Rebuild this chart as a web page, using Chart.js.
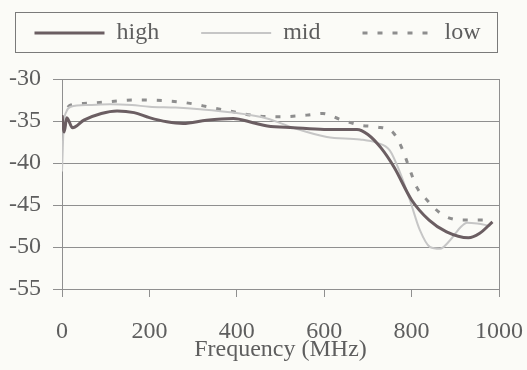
<!DOCTYPE html>
<html>
<head>
<meta charset="utf-8">
<title>Frequency response</title>
<script src="https://cdn.jsdelivr.net/npm/chart.js@4.4.1/dist/chart.umd.min.js"></script>
<style>
  html, body { margin: 0; padding: 0; background: #fbfbf7; }
  #wrap { width: 527px; height: 370px; }
</style>
</head>
<body>
<div id="wrap"><canvas id="resp" width="527" height="370"></canvas></div>
<script>
// series names (legend order)
const seriesNames = ['high', 'mid', 'low'];

// frequency (MHz) / level pairs for each series
const highFreq = [0, 5, 11, 24, 50, 90, 126, 165, 200, 240, 277, 331, 392, 437, 470, 530, 600, 675, 700, 730, 760, 800, 840, 880, 930, 955, 985];
const highLevel = [-34.3, -36.3, -34.6, -35.8, -34.9, -34.1, -33.8, -34.0, -34.6, -35.1, -35.3, -34.9, -34.7, -35.2, -35.6, -35.8, -36.0, -36.0, -36.6, -38.2, -40.5, -44.4, -46.8, -48.2, -48.9, -48.4, -47.0];

const midFreq = [0, 4, 10, 20, 60, 110, 160, 200, 260, 316, 392, 469, 529, 606, 682, 720, 750, 774, 796, 819, 842, 865, 888, 911, 927, 950, 980];
const midLevel = [-41.0, -35.5, -33.9, -33.3, -33.1, -33.0, -33.1, -33.3, -33.4, -33.6, -34.0, -34.7, -35.8, -36.9, -37.2, -37.6, -38.5, -41.2, -44.4, -48.0, -50.0, -50.2, -49.2, -47.7, -47.1, -47.2, -47.5];

const lowFreq = [0, 8, 20, 57, 110, 163, 240, 293, 323, 392, 446, 500, 560, 597, 636, 682, 720, 758, 780, 796, 812, 835, 872, 918, 963, 985];
const lowLevel = [-35.0, -33.8, -33.1, -32.9, -32.7, -32.5, -32.6, -32.9, -33.2, -33.9, -34.4, -34.5, -34.3, -34.1, -34.8, -35.5, -35.7, -36.4, -38.5, -40.8, -42.9, -44.4, -46.2, -46.8, -46.8, -47.0];

// axis ticks
const xTicks = [0, 200, 400, 600, 800, 1000];
const yTicks = [-55, -50, -45, -40, -35, -30];

const INK = '#5e5e5e';
const RULE = '#8f8f8f';
const FONT = 'Liberation Serif';
const LEGEND_GAP = 42;

function pairs(xs, ys) {
  return xs.map((x, i) => ({ x: x, y: ys[i] }));
}

// legend: a single wide row at a fixed height, so the plot starts where it should
const legendRow = {
  id: 'legendRow',
  beforeLayout(chart) {
    const lg = chart.legend;
    if (lg && !lg._fixedFit) {
      const fit = lg.fit;
      lg.fit = function () {
        this.maxWidth = chart.width + 100;
        fit.call(this);
        this.height = 100;
      };
      lg._fixedFit = true;
    }
  },
  afterLayout(chart) {
    const lg = chart.legend;
    if (!lg) return;
    lg.left = -15;
    lg.right = 530;
  }
};

// thin frame round the legend
const legendFrame = {
  id: 'legendFrame',
  afterDraw(chart) {
    const lg = chart.legend;
    if (!lg) return;
    const ctx = chart.ctx;
    ctx.save();
    ctx.strokeStyle = '#7a7a7a';
    ctx.lineWidth = 1;
    ctx.strokeRect(15.5, lg.top + 33.5, 482, 40);
    ctx.restore();
  }
};

// legend samples take the dataset's line style (dash included)
function lineLabels(chart) {
  const items = Chart.defaults.plugins.legend.labels.generateLabels(chart);
  items.forEach((it) => {
    const ds = chart.data.datasets[it.datasetIndex];
    it.strokeStyle = ds.borderColor;
    it.lineWidth = ds.borderWidth;
    it.lineDash = ds.borderDash || [];
  });
  return items;
}

new Chart(document.getElementById('resp'), {
  type: 'line',
  data: {
    datasets: [
      {
        label: seriesNames[0],
        data: pairs(highFreq, highLevel),
        borderColor: '#6b5e62',
        borderWidth: 3
      },
      {
        label: seriesNames[1],
        data: pairs(midFreq, midLevel),
        borderColor: '#c6c6c6',
        borderWidth: 2
      },
      {
        label: seriesNames[2],
        data: pairs(lowFreq, lowLevel),
        borderColor: '#8e8e8e',
        borderWidth: 3,
        borderDash: [5, 10]
      }
    ]
  },
  options: {
    responsive: false,
    animation: false,
    events: [],
    layout: { padding: { top: -21, left: 7, right: 28, bottom: 6 } },
    elements: {
      point: { radius: 0 },
      line: { cubicInterpolationMode: 'monotone', fill: false }
    },
    plugins: {
      tooltip: { enabled: false },
      legend: {
        position: 'top',
        labels: {
          usePointStyle: true,
          pointStyle: 'line',
          pointStyleWidth: 70,
          boxHeight: 24,
          padding: LEGEND_GAP,
          color: INK,
          font: { family: FONT, size: 24 },
          generateLabels: lineLabels
        }
      }
    },
    scales: {
      x: {
        type: 'linear',
        min: 0,
        max: 1000,
        afterBuildTicks: (axis) => { axis.ticks = xTicks.map(v => ({ value: v })); },
        afterFit: (axis) => {
          axis.height = 75;
          axis.paddingLeft = 0;
          axis.paddingRight = 0;
        },
        border: { display: true, color: RULE, width: 1 },
        grid: {
          drawOnChartArea: true,
          color: (c) => (c.tick && c.tick.value === 1000 ? RULE : 'rgba(0,0,0,0)'),
          tickColor: RULE,
          tickLength: 8
        },
        ticks: {
          color: INK,
          padding: 20,
          maxRotation: 0,
          callback: (v) => String(v),
          font: { family: FONT, size: 24 }
        },
        title: {
          display: true,
          text: 'Frequency (MHz)',
          color: INK,
          padding: 0,
          font: { family: FONT, size: 24 }
        }
      },
      y: {
        type: 'linear',
        min: -55,
        max: -30,
        afterBuildTicks: (axis) => { axis.ticks = yTicks.map(v => ({ value: v })); },
        afterFit: (axis) => { axis.width = 55; },
        border: { display: true, color: RULE, width: 1 },
        grid: {
          color: RULE,
          tickColor: RULE,
          tickLength: 9
        },
        ticks: {
          color: INK,
          padding: 12,
          callback: (v) => String(v),
          font: { family: FONT, size: 24 }
        }
      }
    }
  },
  plugins: [legendRow, legendFrame]
});
</script>
</body>
</html>
